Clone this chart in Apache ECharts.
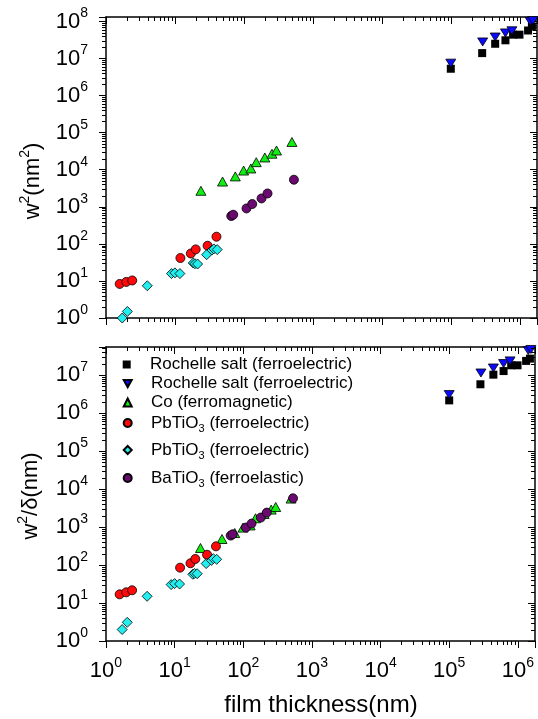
<!DOCTYPE html>
<html>
<head>
<meta charset="utf-8">
<script src="https://cdn.jsdelivr.net/npm/echarts@6/dist/echarts.min.js"></script>
<style>
html,body{margin:0;padding:0;background:#fff;}
#chart{width:538px;height:719px;}
</style>
</head>
<body>
<div id="chart"></div>
<script>
// ---------- data ----------
const seriesKeys = ['rs1', 'rs2', 'co', 'pb1', 'pb2', 'ba'];

const rs1X = [1.0e5, 2.85e5, 4.4e5, 6.2e5, 8.0e5, 9.9e5, 1.32e6, 1.5e6];
const rs1TopY = [5.3e6, 1.4e7, 2.5e7, 3.1e7, 4.4e7, 4.4e7, 5.7e7, 7.3e7];
const rs1BotY = [2.15e6, 5.7e6, 1.02e7, 1.27e7, 1.8e7, 1.8e7, 2.35e7, 2.7e7];

const rs2X = [1.0e5, 2.9e5, 4.4e5, 6.2e5, 7.7e5, 1.42e6, 1.55e6];
const rs2TopY = [7.5e6, 2.8e7, 3.8e7, 4.9e7, 5.6e7, 1.0e8, 1.05e8];
const rs2BotY = [3.05e6, 1.13e7, 1.53e7, 2.0e7, 2.35e7, 4.4e7, 4.7e7];

const coX = [23.8, 49, 75, 99, 126, 151, 201, 255, 297, 497];
const coTopY = [2700, 4800, 6600, 9500, 10800, 16000, 21400, 27000, 33000, 56000];
const coBotY = [280, 483, 695, 964, 1100, 1700, 2200, 2870, 3360, 5600];

const pb1X = [1.58, 1.97, 2.4, 12, 17, 20, 29.7, 40];
const pb1TopY = [8.3, 9.4, 10.3, 41.5, 55, 71, 89, 156];
const pb1BotY = [16.9, 19.1, 21.6, 85, 111, 144, 186, 310];

const pb2X = [1.72, 2.04, 3.97, 8.9, 10, 11.8, 18.4, 19.5, 21.3, 28.8, 34.4, 36.7, 41];
const pb2TopY = [1.0, 1.5, 7.4, 15.8, 16.5, 15.8, 30.4, 29.1, 28.6, 51, 68, 73, 70];
const pb2BotY = [2.0, 3.1, 15, 30.5, 32.4, 31.6, 57, 60, 59, 109, 132, 147, 141];

const baX = [65.5, 70, 109, 132, 180, 220, 531];
const baTopY = [563, 611, 903, 1187, 1680, 2290, 5370];
const baBotY = [594, 643, 964, 1230, 1770, 2390, 5690];

const legendLabels = [
  '{n|Rochelle salt (ferroelectric)}',
  '{n|Rochelle salt (ferroelectric)}',
  '{n|Co (ferromagnetic)}',
  '{n|PbTiO}{s|3}{n| (ferroelectric)}',
  '{n|PbTiO}{s|3}{n| (ferroelectric)}',
  '{n|BaTiO}{s|3}{n| (ferroelastic)}'
];

const xTitle = 'film thickness(nm)';
const yTopTitle = '{b|w}{s|2}{b|(nm}{s|2}{b|)}';
const yBotTitle = '{b|w}{s|2}{b|/δ(nm)}';

// axis ranges
const xMin = 1, xMax = Math.pow(10, 6.25);
const yTopMin = 1, yTopMax = Math.pow(10, 8.12);
const yBotMin = 1, yBotMax = Math.pow(10, 7.737);

// ---------- styling ----------
const FONT = '"Liberation Sans", Arial, Helvetica, sans-serif';
const styles = {
  rs1: {symbol: 'rect', size: 8, color: '#000000', border: 0, rotate: 0, icon: 'rect'},
  rs2: {symbol: 'triangle', size: [10, 8], color: '#0a0aff', border: 0.8, rotate: 180,
        icon: 'path://M0,0L10,0L5,9Z'},
  co:  {symbol: 'triangle', size: [10, 9], color: '#11ee11', border: 0.8, rotate: 0, icon: 'triangle'},
  pb1: {symbol: 'circle', size: 9, color: '#ff0a0a', border: 0.8, rotate: 0, icon: 'circle'},
  pb2: {symbol: 'diamond', size: 10, color: '#22eeee', border: 0.8, rotate: 0, icon: 'diamond'},
  ba:  {symbol: 'circle', size: 9, color: '#6a0a70', border: 0.8, rotate: 0, icon: 'circle'}
};
const legendCenters = [364, 383, 402, 422, 449, 477];
const legendShift = [4, 4, 4, 6.5, 6.5, 6.5];
const legendIconX = 126.7;

function zip(xs, ys) { return xs.map((x, i) => [x, ys[i]]); }

const supRich = {
  b: {fontSize: 22, lineHeight: 30, fontFamily: FONT, color: '#000'},
  s: {fontSize: 14, lineHeight: 30, padding: [0, 0, 16, 0], fontFamily: FONT, color: '#000'}
};

function powLabel(v) {
  const l = Math.log10(v);
  const e = Math.round(l);
  if (Math.abs(l - e) > 1e-6) return '';
  return '{b|10}{s|' + e + '}';
}

function makeAxis(gridIndex, position, min, max, showLabel, tickInside, margin) {
  return {
    type: 'log', logBase: 10, gridIndex: gridIndex, position: position,
    min: min, max: max, splitNumber: 10,
    splitLine: {show: false},
    axisLine: {show: true, onZero: false, lineStyle: {color: '#000', width: 1.5}},
    axisTick: {show: true, inside: tickInside, length: 7, lineStyle: {color: '#000', width: 1}},
    minorTick: {show: false},
    axisLabel: {show: showLabel, formatter: powLabel, rich: supRich, margin: margin,
      showMinLabel: true, showMaxLabel: true, hideOverlap: false},
    axisPointer: {show: false}
  };
}

function minorTickSeries(xi, yi, xmax, ymax) {
  return {
    type: 'custom', xAxisIndex: xi, yAxisIndex: yi, silent: true, clip: false, z: 5,
    data: [[1, 1]],
    renderItem: function (params, api) {
      const cs = params.coordSys;
      const L = cs.x, R = cs.x + cs.width, T = cs.y, B = cs.y + cs.height;
      const children = [];
      const st = {stroke: '#000', lineWidth: 1};
      const len = 4;
      for (let k = 0; k < 9; k++) {
        for (let m = 2; m <= 9; m++) {
          const v = m * Math.pow(10, k);
          if (v < xmax) {
            const px = Math.round(api.coord([v, 1])[0]) + 0.5;
            children.push({type: 'line', shape: {x1: px, y1: B, x2: px, y2: B + len}, style: st});
            children.push({type: 'line', shape: {x1: px, y1: T, x2: px, y2: T + len}, style: st});
          }
          if (v < ymax) {
            const py = Math.round(api.coord([1, v])[1]) + 0.5;
            children.push({type: 'line', shape: {x1: L - len, y1: py, x2: L, y2: py}, style: st});
            children.push({type: 'line', shape: {x1: R - len, y1: py, x2: R, y2: py}, style: st});
          }
        }
      }
      return {type: 'group', children: children};
    }
  };
}

const topData = {
  rs1: zip(rs1X, rs1TopY), rs2: zip(rs2X, rs2TopY), co: zip(coX, coTopY),
  pb1: zip(pb1X, pb1TopY), pb2: zip(pb2X, pb2TopY), ba: zip(baX, baTopY)
};
const botData = {
  rs1: zip(rs1X, rs1BotY), rs2: zip(rs2X, rs2BotY), co: zip(coX, coBotY),
  pb1: zip(pb1X, pb1BotY), pb2: zip(pb2X, pb2BotY), ba: zip(baX, baBotY)
};

function scatter(key, data, xi, yi) {
  const s = styles[key];
  return {
    type: 'scatter', name: key, xAxisIndex: xi, yAxisIndex: yi,
    data: data, symbol: s.symbol, symbolSize: s.size, symbolRotate: s.rotate,
    itemStyle: {color: s.color, borderColor: '#000', borderWidth: s.border, opacity: 1},
    emphasis: {disabled: true}, z: 3
  };
}

const series = [];
seriesKeys.forEach(k => series.push(scatter(k, topData[k], 0, 0)));
seriesKeys.forEach(k => series.push(scatter(k, botData[k], 2, 2)));
series.push(minorTickSeries(0, 0, xMax, yTopMax));
series.push(minorTickSeries(2, 2, xMax, yBotMax));

const legRich = {
  n: {fontSize: 17, lineHeight: 8, fontFamily: FONT, color: '#000'},
  s: {fontSize: 11, lineHeight: 8, padding: [12, 0, 0, 0], fontFamily: FONT, color: '#000'}
};

const legends = seriesKeys.map((k, i) => ({
  orient: 'vertical', left: legendIconX - 4, top: legendCenters[i] - 4 - legendShift[i],
  padding: 0, itemGap: 0, itemWidth: 8, itemHeight: 8, selectedMode: false,
  symbolKeepAspect: true, symbolRotate: 0,
  data: [{name: k, icon: styles[k].icon}],
  formatter: function () { return legendLabels[i]; },
  textStyle: {rich: legRich, fontSize: 17, lineHeight: 8, fontFamily: FONT, color: '#000',
    padding: [0, 0, 0, 14.3]}
}));

const titleRich = {
  b: {fontSize: 22, lineHeight: 30, fontFamily: FONT, color: '#000'},
  s: {fontSize: 14, lineHeight: 30, padding: [0, 0, 16, 0], fontFamily: FONT, color: '#000'}
};

const option = {
  backgroundColor: '#fff',
  animation: false,
  textStyle: {fontFamily: FONT},
  grid: [
    {left: 106, top: 17, width: 431, height: 301, containLabel: false},
    {left: 106, top: 347, width: 431, height: 294, containLabel: false}
  ],
  xAxis: [
    makeAxis(0, 'bottom', xMin, xMax, false, false, 15),
    makeAxis(0, 'top', xMin, xMax, false, true, 15),
    makeAxis(1, 'bottom', xMin, xMax, true, false, 15),
    makeAxis(1, 'top', xMin, xMax, false, true, 15)
  ],
  yAxis: [
    makeAxis(0, 'left', yTopMin, yTopMax, true, false, 18),
    makeAxis(0, 'right', yTopMin, yTopMax, false, true, 18),
    makeAxis(1, 'left', yBotMin, yBotMax, true, false, 18),
    makeAxis(1, 'right', yBotMin, yBotMax, false, true, 18)
  ],
  legend: legends,
  graphic: [
    {type: 'text', x: 321, y: 705, silent: true,
      style: {text: xTitle, fontSize: 24, fontFamily: FONT, fill: '#000',
        align: 'center', verticalAlign: 'middle'}},
    {type: 'text', x: 33, y: 181, rotation: Math.PI / 2, silent: true,
      style: {text: yTopTitle, rich: titleRich, fill: '#000', align: 'center', verticalAlign: 'middle'}},
    {type: 'text', x: 31, y: 496, rotation: Math.PI / 2, silent: true,
      style: {text: yBotTitle, rich: titleRich, fill: '#000', align: 'center', verticalAlign: 'middle'}}
  ],
  series: series
};

const chart = echarts.init(document.getElementById('chart'), null, {renderer: 'canvas'});
chart.setOption(option);
</script>
</body>
</html>
